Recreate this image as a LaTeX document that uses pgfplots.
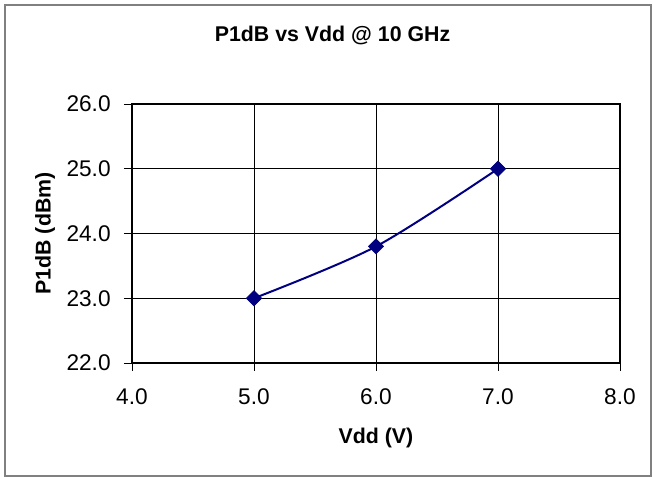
\documentclass[border=0pt]{standalone}
\usepackage{pgfplots}
\pgfplotsset{compat=1.18}
\usepackage{fontspec}
\setmainfont{Liberation Sans}
\definecolor{navyline}{RGB}{0,0,128}
\definecolor{framegray}{RGB}{128,128,128}
\begin{document}
\begin{tikzpicture}
\useasboundingbox (-99pt,-85.5pt) rectangle (390.75pt,272.25pt);
\draw[framegray, line width=0.9pt] (-95.25pt,-84.75pt) rectangle (389.25pt,268.5pt);
\begin{axis}[
  at={(0,0)}, anchor=south west,
  scale only axis,
  width=366pt, height=194.25pt,
  xmin=4, xmax=8, ymin=22, ymax=26,
  xtick={4,5,6,7,8}, ytick={22,23,24,25,26},
  grid=major,
  major grid style={black, line width=0.6pt},
  axis line style={black, line width=1.6pt},
  tick style={black, line width=0.6pt},
  tick align=outside,
  major tick length=6pt,
  xtick pos=bottom, ytick pos=left,
  /pgf/number format/.cd, fixed, fixed zerofill, precision=1, assume math mode=true,
  /pgfplots/.cd,
  tick label style={font=\fontsize{17}{20}\selectfont},
  xticklabel style={yshift=-10pt},
  yticklabel style={xshift=-6.5pt},
  title={\textbf{P1dB vs Vdd @ 10 GHz}},
  title style={font=\fontsize{16}{19}\selectfont, anchor=center, at={(axis description cs:0.411,1.232)}},
  xlabel={\textbf{Vdd (V)}},
  xlabel style={font=\fontsize{16}{19}\selectfont, anchor=center, at={(axis description cs:0.5,-0.29)}},
  ylabel={\textbf{P1dB (dBm)}},
  ylabel style={font=\fontsize{16}{19}\selectfont, anchor=center, rotate=0, at={(axis description cs:-0.178,0.5)}},
]
\addplot[navyline, line width=1.5pt, smooth, tension=0.5, mark=square*, mark size=4pt, mark options={rotate=45, fill=navyline, line width=0.5pt}]
  coordinates {(5,23.0) (6,23.8) (7,25.0)};
\end{axis}
\end{tikzpicture}
\end{document}
